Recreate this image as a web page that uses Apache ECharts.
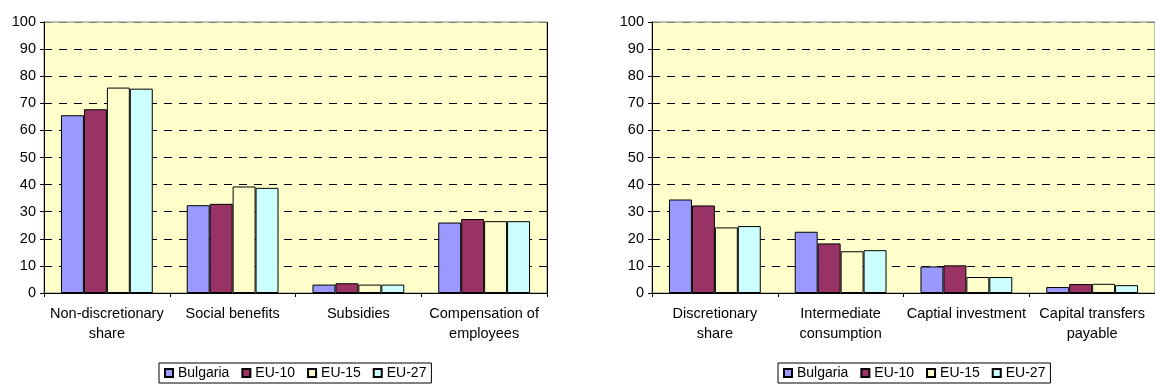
<!DOCTYPE html>
<html>
<head>
<meta charset="utf-8">
<script src="https://cdn.jsdelivr.net/npm/echarts@6/dist/echarts.min.js"></script>
<style>
  html, body { margin: 0; padding: 0; background: #ffffff; }
  #chart { width: 1155px; height: 385px; }
</style>
</head>
<body>
<div id="chart"></div>
<script>
// Expenditure shares (% of total), two panels
const seriesNames = ['Bulgaria', 'EU-10', 'EU-15', 'EU-27'];
const seriesColors = ['#9999FF', '#993366', '#FFFFCC', '#CCFFFF'];

const categoriesLeft = ['Non-discretionary\nshare', 'Social benefits', 'Subsidies', 'Compensation of\nemployees'];
const bulgariaLeft = [65.6, 32.4, 3.1, 26.0];
const eu10Left = [67.8, 32.9, 3.6, 27.3];
const eu15Left = [75.8, 39.3, 3.1, 26.5];
const eu27Left = [75.4, 38.8, 3.1, 26.5];

const categoriesRight = ['Discretionary\nshare', 'Intermediate\nconsumption', 'Captial investment', 'Capital transfers\npayable'];
const bulgariaRight = [34.5, 22.6, 9.8, 2.2];
const eu10Right = [32.3, 18.3, 10.2, 3.3];
const eu15Right = [24.2, 15.4, 5.9, 3.4];
const eu27Right = [24.7, 15.8, 5.9, 2.9];

const yTicks = [0, 10, 20, 30, 40, 50, 60, 70, 80, 90, 100];

const FONT = "'Liberation Sans', Arial, sans-serif";
const LABEL_SIZE = 14.5;
const LEGEND_SIZE = 14;
const dataLeft = [bulgariaLeft, eu10Left, eu15Left, eu27Left];
const dataRight = [bulgariaRight, eu10Right, eu15Right, eu27Right];

function xAxisFor(gridIndex, cats) {
  return {
    type: 'category',
    gridIndex: gridIndex,
    data: cats,
    boundaryGap: true,
    axisLine: { lineStyle: { color: '#000', width: 1 } },
    axisTick: { show: true, length: 4, lineStyle: { color: '#000' } },
    axisLabel: {
      interval: 0, color: '#000', fontFamily: FONT, fontSize: LABEL_SIZE,
      lineHeight: 20, margin: 11, align: 'center'
    },
    // solid separator between the summary bar group and its components
    splitLine: {
      show: true,
      interval: function (idx) { return idx === 1; },
      lineStyle: { color: '#000', width: 1, type: 'solid' }
    }
  };
}

function yAxisFor(gridIndex) {
  const gridColors = yTicks.map(function (v, i) { return i === yTicks.length - 1 ? '#808080' : '#000'; });
  return {
    type: 'value',
    gridIndex: gridIndex,
    min: yTicks[0], max: yTicks[yTicks.length - 1], interval: 10,
    axisLine: { show: true, lineStyle: { color: '#000', width: 1 } },
    axisTick: { show: true, length: 4, lineStyle: { color: '#000' } },
    axisLabel: { color: '#000', fontFamily: FONT, fontSize: LABEL_SIZE, margin: 8 },
    splitLine: { show: true, lineStyle: { color: gridColors, width: 1, type: [8, 7] } }
  };
}

function barsFor(gridIndex, data) {
  return seriesNames.map(function (name, i) {
    return {
      name: name,
      type: 'bar',
      xAxisIndex: gridIndex,
      yAxisIndex: gridIndex,
      data: data[i],
      barGap: '0%',
      barCategoryGap: '27%',
      itemStyle: { color: seriesColors[i], borderColor: '#000', borderWidth: 1 },
      emphasis: { disabled: true },
      animation: false
    };
  });
}

function legendAt(left) {
  return {
    data: seriesNames,
    left: left, top: 363,
    orient: 'horizontal',
    icon: 'rect',
    itemWidth: 8, itemHeight: 8, itemGap: 12,
    padding: [3, 5, 3, 5],
    borderColor: '#000', borderWidth: 1,
    textStyle: { color: '#000', fontFamily: FONT, fontSize: LEGEND_SIZE },
    selectedMode: false
  };
}

const chart = echarts.init(document.getElementById('chart'), null, { renderer: 'canvas' });
chart.setOption({
  backgroundColor: '#ffffff',
  animation: false,
  grid: [
    { left: 44, top: 22, width: 503, height: 271, show: true, backgroundColor: '#FFFFCC', borderColor: '#808080', borderWidth: 1 },
    { left: 652, top: 22, width: 517, height: 271, show: true, backgroundColor: '#FFFFCC', borderColor: '#808080', borderWidth: 1 }
  ],
  xAxis: [xAxisFor(0, categoriesLeft), xAxisFor(1, categoriesRight)],
  yAxis: [yAxisFor(0), yAxisFor(1)],
  legend: [legendAt(159), legendAt(778)],
  series: barsFor(0, dataLeft).concat(barsFor(1, dataRight))
});
</script>
</body>
</html>
